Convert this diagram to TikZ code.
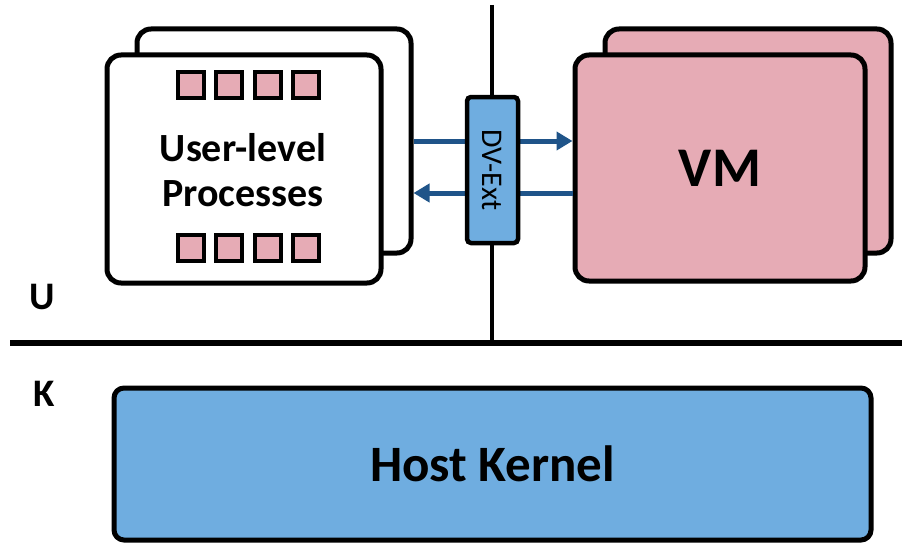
\documentclass[tikz,border=0pt]{standalone}
\usepackage{fontspec}
\setmainfont{Carlito}
\usetikzlibrary{arrows.meta}
\definecolor{vmpink}{RGB}{230,171,181}
\definecolor{kernblue}{RGB}{111,173,224}
\definecolor{arrblue}{RGB}{31,84,137}
\tikzset{
  card/.style={draw=black, line width=5pt, rounded corners=14pt, inner sep=0pt},
  slot/.style={draw=black, fill=vmpink, line width=4.5pt, minimum size=26pt, inner sep=0pt},
  link/.style={draw=arrblue, line width=5pt, -{Triangle[length=16pt,width=18pt]}},
  lbl/.style={font=\fontsize{39}{41}\selectfont\bfseries}
}
\begin{document}
\begin{tikzpicture}[x=1pt,y=-1pt]
\useasboundingbox (0,0) rectangle (902,543);

% user / kernel separation
\coordinate (vtop) at (492,5);
\coordinate (split) at (492,343);
\coordinate (hleft) at (10,343);
\coordinate (hright) at (902,343);
\draw[line width=3.5pt] (vtop) -- (split);
\draw[line width=6pt] (hleft) -- (hright);

% user-level processes (stacked)
\node[card, fill=white, minimum width=274pt, minimum height=224pt] (pb) at (274,141) {};
\node[card, fill=white, minimum width=274pt, minimum height=228pt] (pf) at (244,169) {};
\foreach \x [count=\i] in {191,229,268,306} {
  \node[slot] (st\i) at (\x,85) {};
  \node[slot] (sb\i) at (\x,248) {};
}
\node[font=\fontsize{40}{45}\selectfont\bfseries, align=center] (ptext) at (243,170) {User-level\\Processes};

% virtual machines (stacked)
\node[card, fill=vmpink, minimum width=286pt, minimum height=224pt] (vb) at (748,141) {};
\node[card, fill=vmpink, minimum width=290pt, minimum height=226pt] (vf) at (720,168) {};
\node[font=\fontsize{56}{60}\selectfont\bfseries] (vmtext) at (vf) {VM};

% channels through the extension
\coordinate (lo) at (0,193);
\draw[link] (pb.east) -- (vf.west |- pb.east);
\draw[link] (vf.west |- lo) -- (pb.east |- lo);

\node[draw=black, fill=kernblue, line width=4.5pt, rounded corners=4pt,
      minimum width=51pt, minimum height=146pt, inner sep=0pt] (dv) at (492.5,170) {};
\node[rotate=-90, font=\fontsize{30}{30}\selectfont] (dvtext) at (dv) {DV-Ext};

% host kernel
\node[card, fill=kernblue, rounded corners=10pt, minimum width=757pt, minimum height=152pt] (hk) at (492.5,464) {};
\node[font=\fontsize{51}{60}\selectfont\bfseries] (hktext) at (hk) {Host Kernel};

% mode labels
\node[lbl] (ulbl) at (42,297) {U};
\node[lbl] (klbl) at (44,394) {K};
\end{tikzpicture}
\end{document}
